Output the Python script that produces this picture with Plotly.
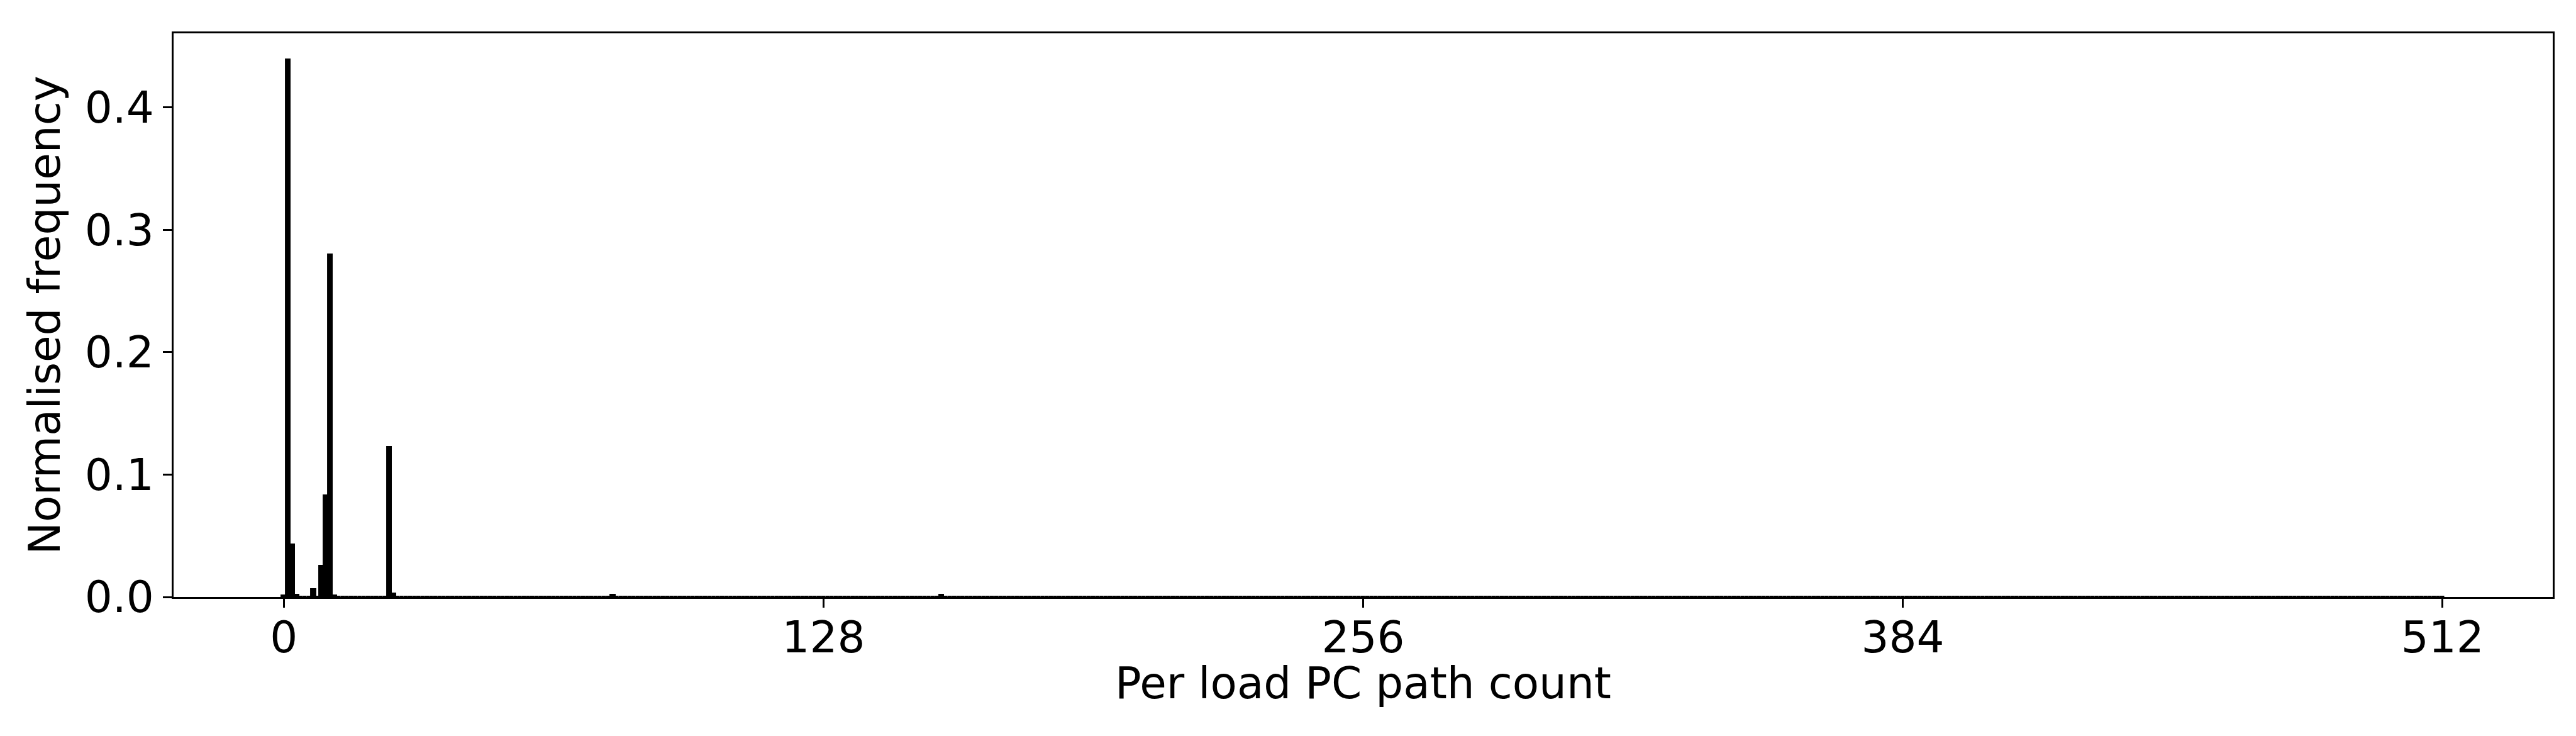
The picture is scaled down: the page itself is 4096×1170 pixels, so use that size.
import plotly.graph_objects as go

# ---- data ----
bins = list(range(0, 513))                      # per load PC path count (bin centres)
peak_bins = [0, 1, 2, 3, 7, 9, 10, 11, 12, 25, 26, 78, 156]
peak_freq = [0.0010, 0.4390, 0.0426, 0.0017, 0.0061, 0.0252, 0.0825,
             0.2794, 0.0012, 0.1222, 0.0026, 0.0015, 0.0017]
x_tick_vals = [0, 128, 256, 384, 512]
y_tick_vals = [0.0, 0.1, 0.2, 0.3, 0.4]
y_tick_text = ["0.0", "0.1", "0.2", "0.3", "0.4"]
x_title = "Per load PC path count"
y_title = "Normalised frequency"

freq_lookup = dict(zip(peak_bins, peak_freq))
freq = [freq_lookup.get(b, 0.0) for b in bins]

S = 0.975
FONT = "DejaVu Sans"
fs = 71 * S
lw = 3.3 * S

fig = go.Figure()
fig.add_trace(go.Bar(
    x=bins, y=freq, width=1.0,
    marker=dict(color="black", line=dict(color="black", width=3.0 * S)),
    showlegend=False,
))

fig.update_layout(
    width=4096, height=1170,
    margin=dict(l=268, r=45, t=45, b=229, autoexpand=False),
    paper_bgcolor="white", plot_bgcolor="white",
    font=dict(family=FONT, size=fs, color="black"),
    bargap=0,
)
fig.update_xaxes(
    range=[-26.15, 538.15], tickvals=x_tick_vals,
    ticks="outside", ticklen=14.2, tickwidth=lw, tickcolor="black",
    showline=True, linecolor="black", linewidth=lw, mirror=True,
    showgrid=False, zeroline=False, ticklabelstandoff=-12,
    tickfont=dict(family=FONT, size=fs, color="black"),
)
fig.update_yaxes(
    range=[0, 0.4605], tickvals=y_tick_vals, ticktext=y_tick_text,
    ticks="outside", ticklen=14.2, tickwidth=lw, tickcolor="black",
    showline=True, linecolor="black", linewidth=lw, mirror=True,
    showgrid=False, zeroline=False,
    tickfont=dict(family=FONT, size=fs, color="black"),
    title=dict(text=y_title, font=dict(family=FONT, size=fs, color="black"),
               standoff=17),
)
fig.add_annotation(
    text=x_title, xref="paper", yref="paper", x=0.5, y=0,
    xanchor="center", yanchor="middle", yshift=-137, showarrow=False,
    borderpad=0,
    font=dict(family=FONT, size=fs, color="black"),
)

fig.write_html("out.html")
